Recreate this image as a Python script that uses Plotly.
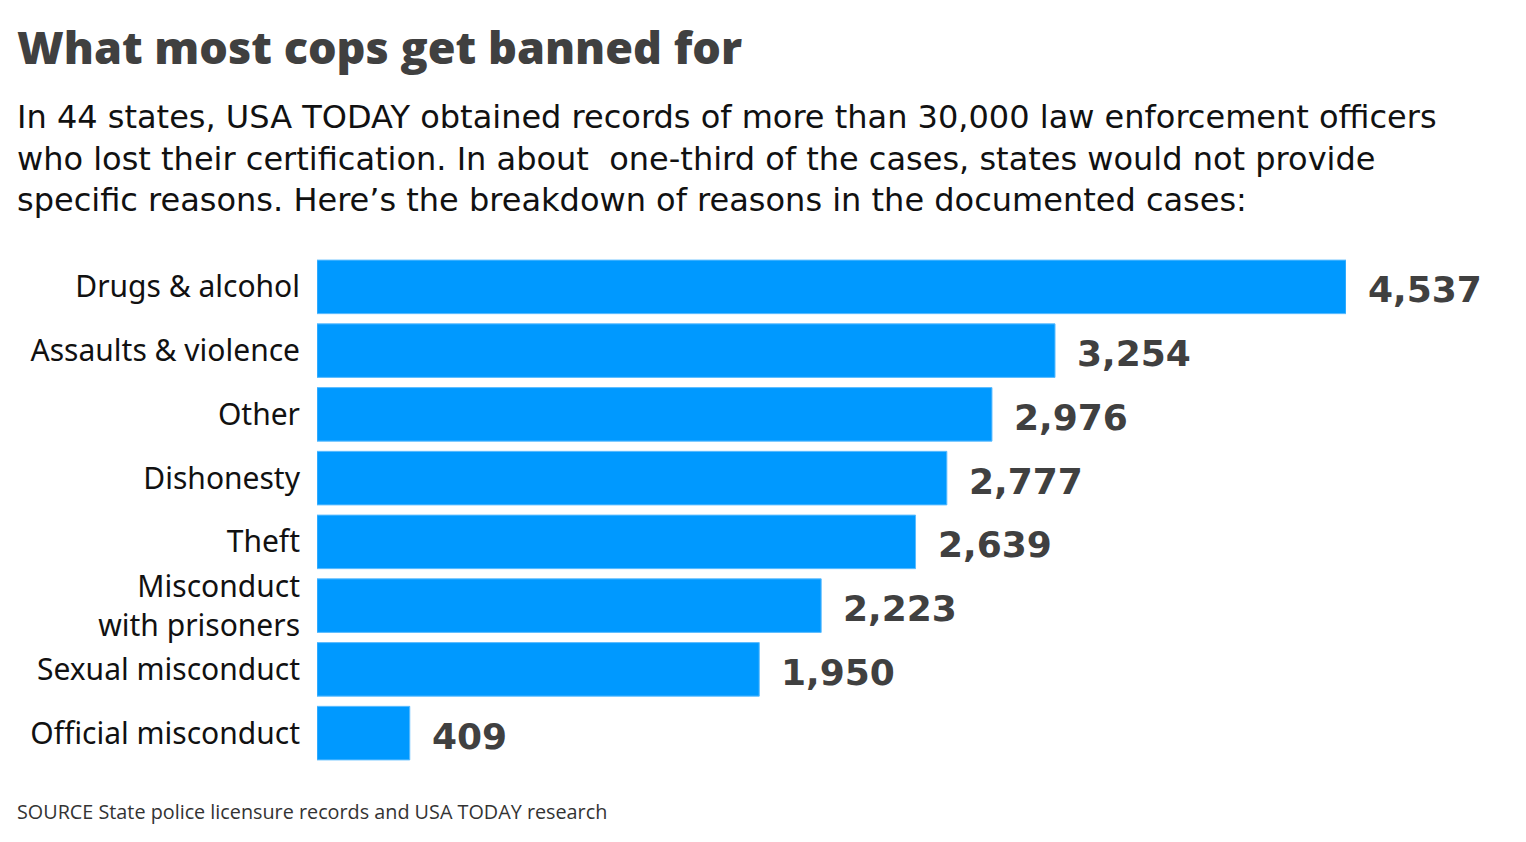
import plotly.graph_objects as go

categories = ["Drugs & alcohol", "Assaults & violence", "Other", "Dishonesty", "Theft",
              "Misconduct<br>with prisoners", "Sexual misconduct", "Official misconduct"]
values = [4537, 3254, 2976, 2777, 2639, 2223, 1950, 409]
value_labels = ["4,537", "3,254", "2,976", "2,777", "2,639", "2,223", "1,950", "409"]

O = 8  # page body margin offset
W, H = 1526 - O, 842 - O
L, T = 317 - O, 255 - O
R = (W) - (1346 - O)
B = (H) - (765 - O)
PW = W - L - R
PH = H - T - B

def px_x(p):
    return (p - O - L) / PW

def px_y(p):
    return 1 - (p - O - T) / PH

fig = go.Figure()
fig.add_trace(go.Bar(
    x=values, y=categories, orientation="h",
    marker=dict(color="#0099FF", line=dict(color="#5cbcff", width=1)),
    hoverinfo="skip", cliponaxis=False,
))

for v, c, lab in zip(values, categories, value_labels):
    fig.add_annotation(x=v, y=c, text=lab, showarrow=False, xanchor="left",
                       xshift=20, yshift=-3,
                       font=dict(family="DejaVu Sans", size=36, color="#404040", weight="bold"))

fig.add_annotation(xref="paper", yref="paper", x=px_x(15), y=px_y(46), xanchor="left", yanchor="middle",
                   text="What most cops get banned for", showarrow=False,
                   font=dict(family="Open Sans", size=45, color="#404040", weight=800))
fig.add_annotation(xref="paper", yref="paper", x=px_x(15), y=px_y(158), xanchor="left", yanchor="middle",
                   align="left", showarrow=False,
                   text=("In 44 states, USA TODAY obtained records of more than 30,000 law enforcement officers<br>"
                         "who lost their certification. In about  one-third of the cases, states would not provide<br>"
                         "specific reasons. Here\u2019s the breakdown of reasons in the documented cases:"),
                   font=dict(family="DejaVu Sans", size=32, color="#111111"))
fig.add_annotation(xref="paper", yref="paper", x=px_x(15), y=px_y(811), xanchor="left", yanchor="middle",
                   text="SOURCE State police licensure records and USA TODAY research", showarrow=False,
                   font=dict(family="Open Sans", size=19.8, color="#333333"))

fig.update_layout(
    width=W, height=H, margin=dict(l=L, r=R, t=T, b=B, autoexpand=False),
    paper_bgcolor="white", plot_bgcolor="white", bargap=0.16, showlegend=False,
)
fig.update_xaxes(range=[0, 4537], visible=False, fixedrange=True)
fig.update_yaxes(autorange="reversed", showgrid=False, zeroline=False, showline=False,
                 ticks="", ticklabelstandoff=16,
                 tickfont=dict(family="Noto Sans", size=30, color="#111111"))

fig.write_html("out.html")
